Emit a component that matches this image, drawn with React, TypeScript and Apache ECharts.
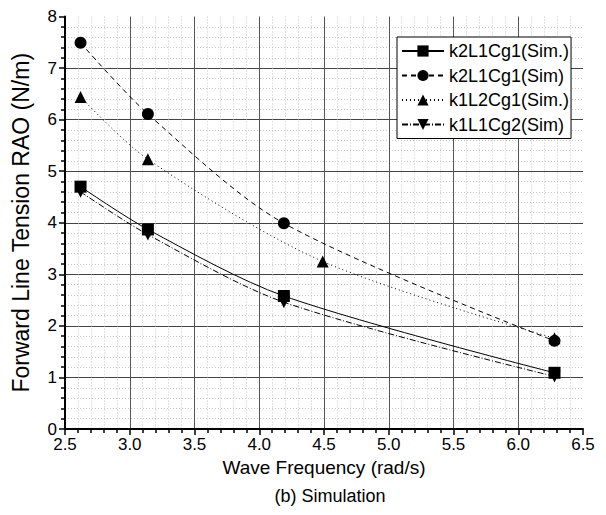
import React, { useEffect, useRef } from "react";
import * as echarts from "echarts";

const seriesNames = ["k2L1Cg1(Sim.)", "k2L1Cg1(Sim)", "k1L2Cg1(Sim.)", "k1L1Cg2(Sim)"];
const xSquare = [2.62, 3.14, 4.19, 6.28];
const ySquare = [4.7, 3.87, 2.58, 1.09];
const xCircle = [2.62, 3.14, 4.19, 6.28];
const yCircle = [7.49, 6.11, 3.99, 1.71];
const xTriUp = [2.62, 3.14, 4.49, 6.28];
const yTriUp = [6.44, 5.23, 3.25, 1.76];
const xTriDown = [2.62, 3.14, 4.19, 6.28];
const yTriDown = [4.6, 3.77, 2.46, 1.02];
const xTicks = ["2.5", "3.0", "3.5", "4.0", "4.5", "5.0", "5.5", "6.0", "6.5"];

const FONT = "'Liberation Sans', Arial, sans-serif";

function pairs(xs: number[], ys: number[]) {
  return xs.map((x, i) => [x, ys[i]]);
}

export default function App() {
  const ref = useRef<HTMLDivElement>(null);
  useEffect(() => {
    if (!ref.current) return;
    const chart = echarts.init(ref.current, undefined, { renderer: "svg" });
    const baseSeries = (name: string, data: number[][], symbol: string, lineType: any, rotate = 0) => ({
      name,
      type: "line",
      data,
      smooth: 0.3,
      symbol,
      symbolSize: 12,
      symbolRotate: rotate,
      itemStyle: { color: "#000" },
      lineStyle: { color: "#000", width: 1, type: lineType },
      z: 5,
    });
    chart.setOption({
      animation: false,
      textStyle: { fontFamily: FONT, color: "#000" },
      grid: { left: 65, right: 23, top: 16.5, bottom: 86 },
      title: {
        text: "(b) Simulation",
        left: 325,
        top: 482,
        textAlign: "center",
        textStyle: { fontFamily: FONT, fontSize: 18, fontWeight: "normal", color: "#000" },
      },
      legend: {
        orient: "vertical",
        left: 397,
        top: 37,
        padding: [5, 2, 5, 4],
        itemGap: 6.5,
        itemWidth: 42,
        itemHeight: 14,
        backgroundColor: "#fff",
        borderColor: "#000",
        borderWidth: 1,
        borderRadius: 0,
        textStyle: { fontFamily: FONT, fontSize: 18, color: "#000" },
        data: seriesNames,
        z: 10,
      },
      xAxis: {
        type: "value",
        min: 2.5,
        max: 6.5,
        interval: 0.5,
        name: "Wave Frequency (rad/s)",
        nameLocation: "middle",
        nameGap: 27,
        nameTextStyle: { fontFamily: FONT, fontSize: 19, color: "#000" },
        axisLine: { show: true, onZero: false, lineStyle: { color: "#000", width: 2 } },
        axisTick: { show: true, length: 6, lineStyle: { color: "#000", width: 1.5 } },
        minorTick: { show: true, splitNumber: 5, length: 4, lineStyle: { color: "#000", width: 1.5 } },
        axisLabel: {
          fontFamily: FONT,
          fontSize: 17,
          color: "#000",
          margin: 7,
          formatter: (v: number) => xTicks[Math.round((v - 2.5) / 0.5)] ?? String(v),
        },
        splitLine: { show: true, showMinLine: false, showMaxLine: false, lineStyle: { color: "#555", width: 1 } },
        minorSplitLine: { show: true, lineStyle: { color: "#c8c8c8", width: 1, type: [1, 2] } },
      },
      yAxis: {
        type: "value",
        min: 0,
        max: 8,
        interval: 1,
        name: "Forward Line Tension RAO (N/m)",
        nameLocation: "middle",
        nameGap: 33,
        nameTextStyle: { fontFamily: FONT, fontSize: 23, color: "#000" },
        axisLine: { show: true, lineStyle: { color: "#000", width: 2 } },
        axisTick: { show: true, length: 6, lineStyle: { color: "#000", width: 1.5 } },
        minorTick: { show: true, splitNumber: 5, length: 4, lineStyle: { color: "#000", width: 1.5 } },
        axisLabel: { fontFamily: FONT, fontSize: 17, color: "#000", margin: 8 },
        splitLine: { show: true, showMinLine: false, showMaxLine: false, lineStyle: { color: "#444", width: 1 } },
        minorSplitLine: { show: true, lineStyle: { color: "#c8c8c8", width: 1, type: [1, 2] } },
      },
      series: [
        baseSeries(seriesNames[0], pairs(xSquare, ySquare), "rect", "solid"),
        baseSeries(seriesNames[1], pairs(xCircle, yCircle), "circle", [5, 4]),
        baseSeries(seriesNames[2], pairs(xTriUp, yTriUp), "triangle", [1, 3]),
        baseSeries(seriesNames[3], pairs(xTriDown, yTriDown), "triangle", [6, 2, 1, 2], 180),
      ],
    });
    return () => chart.dispose();
  }, []);
  return <div ref={ref} style={{ width: 606, height: 515, position: "absolute", left: 0, top: 0 }} />;
}
